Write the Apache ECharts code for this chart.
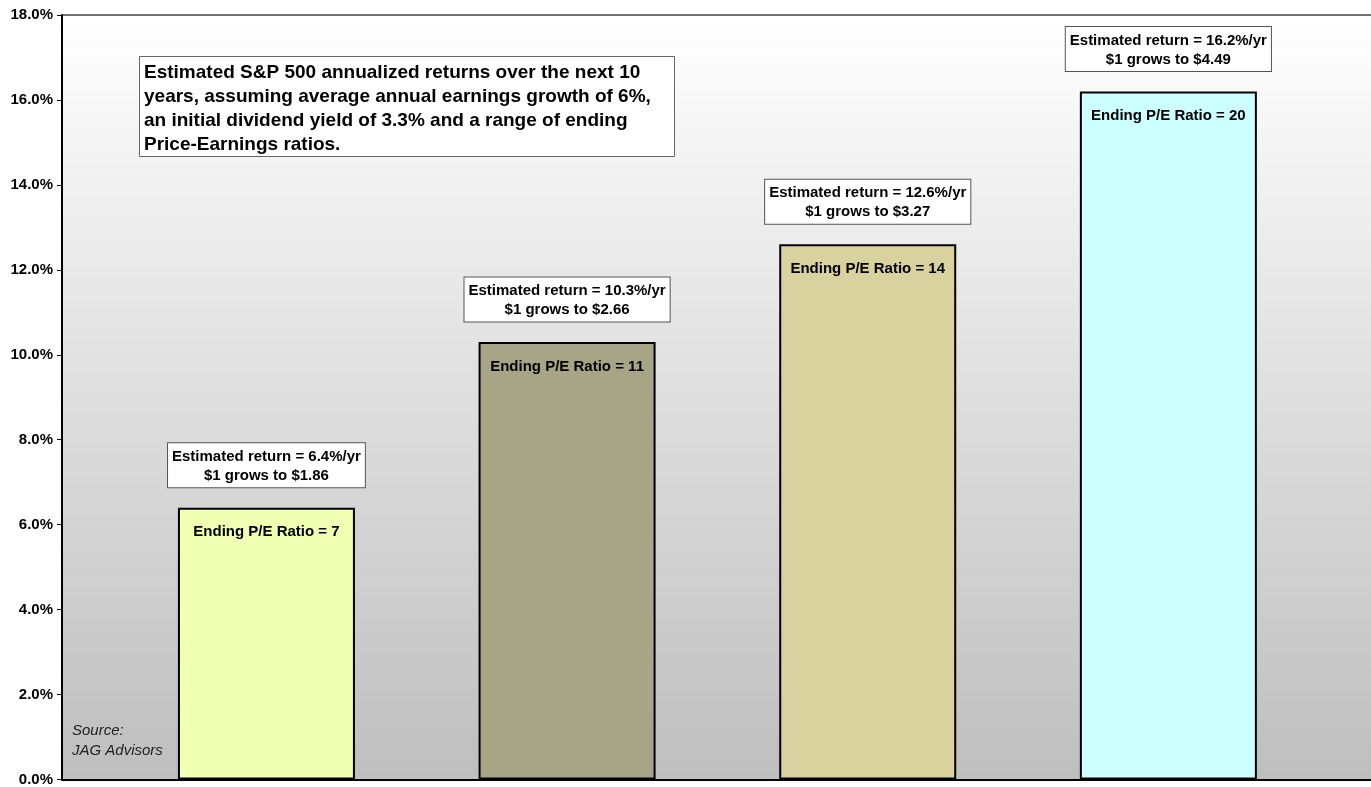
<!DOCTYPE html>
<html>
<head>
<meta charset="utf-8">
<script src="https://cdn.jsdelivr.net/npm/echarts@6/dist/echarts.min.js"></script>
<style>html,body{margin:0;padding:0;background:#fff}#c{width:1371px;height:787px}</style>
</head>
<body>
<div id="c"></div>
<script>
const peRatios = [7, 11, 14, 20];
const annualReturns = [6.4, 10.3, 12.6, 16.2];
const growsTo = ['1.86', '2.66', '3.27', '4.49'];
const barColors = ['#F0FFB2', '#A8A486', '#D9D29E', '#CCFFFF'];
const yTicks = { min: 0, max: 18, interval: 2 };
const titleText = 'Estimated S&P 500 annualized returns over the next 10\nyears, assuming average annual earnings growth of 6%,\nan initial dividend yield of 3.3% and a range of ending\nPrice-Earnings ratios.';
const sourceText = 'Source:\nJAG Advisors';

const FONT = '"Liberation Sans", Arial, sans-serif';
const chart = echarts.init(document.getElementById('c'), null, { renderer: 'canvas' });

const barData = annualReturns.map((v, i) => ({
  value: [i, v],
  itemStyle: { color: barColors[i] }
}));
const noteData = annualReturns.map((v, i) => [i, v]);

chart.setOption({
  animation: false,
  backgroundColor: '#ffffff',
  title: {
    text: titleText,
    left: 139, top: 56,
    padding: [5, 24, 0, 5],
    backgroundColor: '#ffffff',
    borderColor: '#666666',
    borderWidth: 1,
    textStyle: { fontFamily: FONT, fontSize: 19, fontWeight: 'bold', color: '#000', lineHeight: 24 }
  },
  grid: {
    left: 62, right: 0, top: 15, bottom: 4,
    show: true, borderWidth: 0,
    backgroundColor: new echarts.graphic.LinearGradient(0, 0, 0, 1, [
      { offset: 0, color: '#FFFFFF' },
      { offset: 1, color: '#BEBEBE' }
    ])
  },
  xAxis: {
    type: 'value', min: -0.68, max: 3.674,
    axisLine: { show: true, onZero: false, lineStyle: { color: '#000', width: 2 } },
    axisTick: { show: false }, axisLabel: { show: false }, splitLine: { show: false }
  },
  yAxis: {
    type: 'value', min: yTicks.min, max: yTicks.max, interval: yTicks.interval,
    axisLine: { show: true, onZero: false, lineStyle: { color: '#000', width: 2 } },
    axisTick: { show: true, length: 5, lineStyle: { color: '#000', width: 1 } },
    splitLine: { show: false },
    axisLabel: {
      formatter: v => v.toFixed(1) + '%',
      fontFamily: FONT, fontSize: 15, fontWeight: 'bold', color: '#000', margin: 9
    }
  },
  series: [{
    type: 'bar',
    data: barData,
    barWidth: 177,
    itemStyle: { borderColor: '#000', borderWidth: 2 },
    label: {
      show: true, position: 'insideTop', distance: 17,
      formatter: p => 'Ending P/E Ratio = ' + peRatios[p.dataIndex],
      fontFamily: FONT, fontSize: 15, fontWeight: 'bold', color: '#000'
    }
  }, {
    type: 'scatter',
    data: noteData,
    symbolSize: 1,
    itemStyle: { color: 'rgba(0,0,0,0)', opacity: 1 },
    label: {
      show: true, position: 'top', distance: 20, opacity: 1,
      formatter: p => 'Estimated return = ' + annualReturns[p.dataIndex].toFixed(1) + '%/yr\n$1 grows to $' + growsTo[p.dataIndex],
      align: 'center',
      fontFamily: FONT, fontSize: 15, fontWeight: 'bold', color: '#000', lineHeight: 19,
      backgroundColor: '#fff', borderColor: '#555', borderWidth: 1, padding: [4, 4, 2, 4]
    },
    z: 5
  }],
  graphic: [{
    type: 'line', silent: true,
    shape: { x1: 62, y1: 15, x2: 1371, y2: 15 },
    style: { stroke: '#444', lineWidth: 1.5 }
  }, {
    type: 'text', left: 72, top: 721,
    style: { text: sourceText, font: 'italic 15px ' + FONT, fill: '#222', lineHeight: 20 }
  }]
});
</script>
</body>
</html>
